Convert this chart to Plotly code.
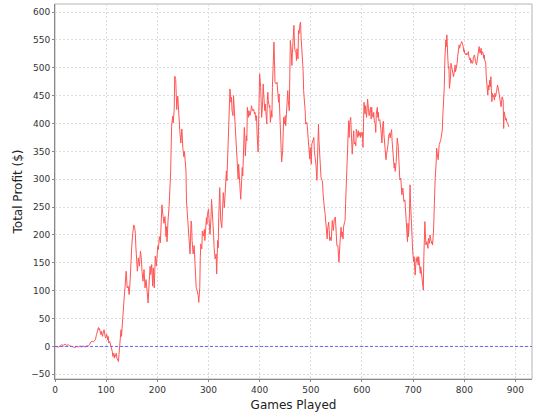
import plotly.graph_objects as go

# ---- data (games played, cumulative profit in $) ----
games_a = [0, 3, 7, 10, 13, 16, 20, 23, 26, 29, 33, 36, 39, 42, 46, 49, 52, 55, 59, 62,
           65, 68, 70, 73, 75, 77, 79, 81, 83, 85, 86, 87, 89, 90, 91, 93, 94, 96, 98, 99,
           101, 103, 104, 105, 107, 109, 111, 112, 113, 115, 116, 117, 118, 120, 121, 122,
           124, 125, 126]
profit_a = [0, 0, -1, 1, 3, 2, 4, 2, 3, 1, -1, -1, -2, 0, -1, 1, -1, 1, -1, 1,
            1, 4, 8, 9, 8, 11, 12, 21, 27, 34, 30, 32, 24, 21, 27, 18, 24, 30, 18, 15,
            22, 12, 18, 6, 9, 3, -3, -9, -18, -12, -21, -15, -18, -12, -21, -24,
            -27, -15, 0]

games_b = [129, 130, 132, 133, 135, 137, 139, 140, 141, 143, 145, 147, 148, 150, 152, 154,
           156, 157, 158, 160, 161, 163, 165, 167, 169, 170, 172, 174, 176, 178, 180, 182,
           184, 186, 187, 189, 191, 192, 194, 196, 198, 199, 201, 202, 204, 206, 207, 209,
           211, 213, 215, 217, 218, 219, 221, 223]
profit_b = [30, 18, 54, 48, 84, 108, 135, 123, 105, 108, 93, 120, 147, 180, 203, 218,
            212, 203, 180, 153, 135, 159, 144, 171, 156, 135, 117, 138, 105, 120, 99, 78,
            114, 144, 129, 147, 108, 141, 105, 162, 144, 165, 180, 174, 197, 186, 215, 254,
            236, 221, 233, 197, 215, 188, 227, 251]

games_c = [226, 228, 230, 231, 233, 234, 236, 238, 240, 242, 244, 246, 248, 250, 252, 253]
profit_c = [311, 395, 413, 401, 425, 485, 479, 425, 449, 407, 386, 365, 390, 355, 340, 350]

games_d = [254, 256, 257, 259, 260, 262, 264, 266, 267, 268, 270, 272, 274, 276, 278, 280,
           281, 283, 284, 285, 287, 288, 290, 292, 293, 294, 296, 297, 298, 300, 301, 302,
           303, 305, 306, 307, 309, 310, 311, 313, 315, 316, 318, 319, 320, 322, 323, 324,
           326, 328, 329, 331, 333, 335, 336, 337, 339, 340, 341, 342, 344, 345, 346, 348,
           349, 350, 352, 353, 355, 357, 358, 359, 361, 362, 363, 365, 366, 367, 369, 370,
           371, 372, 374, 375, 376, 378, 379]
profit_d = [330, 315, 261, 234, 240, 210, 166, 225, 219, 190, 166, 181, 130, 106, 100, 91,
            79, 106, 160, 184, 175, 207, 198, 210, 190, 216, 231, 219, 237, 246, 225, 213,
            201, 231, 264, 249, 225, 201, 177, 157, 166, 130, 190, 177, 231, 285, 255, 225,
            213, 261, 276, 249, 279, 315, 297, 327, 366, 411, 453, 462, 438, 447, 423, 414,
            450, 432, 411, 381, 351, 327, 300, 327, 303, 279, 264, 300, 321, 306, 351, 393,
            375, 342, 378, 369, 429, 411, 423]

games_e = [381, 383, 384, 386, 388, 390, 391, 393, 394, 395, 397, 398, 400, 402, 403, 404,
           406, 407, 408, 410, 411, 412, 414, 415, 416, 417, 419, 420, 421, 423, 424, 425,
           427, 428, 429, 430, 432, 434, 436, 437, 438, 440, 441, 442, 443, 445, 446, 447,
           449, 450, 451, 453, 454, 455, 456, 458, 459, 460, 462, 463, 464, 466, 467, 468,
           469, 471, 472, 473, 475, 476, 477, 479, 480, 481, 482, 484, 485, 486, 488, 489,
           490, 492, 493, 494, 496, 497, 498, 499, 501, 502, 503, 505, 506, 507, 509, 510]
profit_e = [414, 423, 432, 423, 426, 417, 420, 405, 414, 381, 349, 399, 489, 465, 423, 411,
            441, 471, 453, 423, 435, 426, 399, 441, 456, 441, 429, 432, 402, 423, 411, 465,
            525, 546, 513, 474, 471, 474, 450, 438, 453, 405, 393, 363, 331, 351, 387, 411,
            399, 414, 396, 423, 429, 459, 441, 423, 489, 549, 528, 504, 525, 573, 576, 546,
            531, 528, 513, 534, 516, 567, 561, 579, 582, 555, 540, 525, 495, 459, 441, 423,
            399, 402, 396, 381, 366, 351, 336, 357, 327, 363, 366, 369, 375, 351, 339, 327]

games_f = [512, 514, 515, 516, 518, 519, 520, 522, 523, 524, 525, 527, 528, 529, 531, 532,
           533, 535, 536, 537, 538, 540, 541, 542, 544, 545, 546, 548, 549, 550, 551, 553,
           554, 555, 557, 558, 559, 561, 562, 563, 564, 566, 567, 568, 570, 571, 572, 574,
           575, 576, 578, 579, 580, 581, 583, 584, 585, 587, 588, 589, 591, 592, 593, 594,
           596, 597, 598, 600, 601, 602, 604, 605, 606, 607, 609, 610, 611, 613, 614, 615,
           617, 618, 619, 620, 622, 623, 624, 626, 627, 628, 630, 631, 632, 633]
profit_f = [298, 351, 399, 369, 339, 327, 303, 298, 295, 274, 256, 244, 238, 226, 208, 193,
            211, 223, 208, 190, 196, 190, 214, 226, 208, 220, 229, 232, 208, 196, 181, 181,
            166, 151, 184, 205, 214, 196, 205, 193, 214, 223, 226, 256, 303, 339, 381, 405,
            375, 399, 411, 390, 363, 345, 375, 387, 363, 366, 360, 390, 381, 375, 387, 378,
            384, 375, 384, 378, 384, 357, 438, 423, 417, 432, 411, 426, 444, 423, 414, 420,
            429, 408, 429, 417, 411, 420, 405, 399, 384, 417, 429, 411, 420, 405]

games_g = [635, 637, 638, 639, 641, 642, 643, 645, 646, 647, 648, 650, 651, 652, 654, 655,
           656, 658, 659, 660, 661, 663, 664, 665, 667, 668, 669, 671, 672, 673, 674, 676,
           677, 678, 680, 681, 682, 684, 685, 686, 687, 689, 690, 691, 693, 694, 695, 697,
           698, 699, 701, 702, 703, 704, 706, 707, 708, 710, 711, 712, 714, 715, 716, 717,
           719, 720, 721, 723, 724, 725, 727, 728, 729, 730, 732, 733, 734, 736, 737, 738,
           740, 741, 742, 743, 745, 746, 747, 749, 750, 751]
profit_g = [407, 389, 371, 365, 401, 404, 380, 359, 350, 335, 344, 353, 362, 377, 383, 374,
            383, 389, 368, 350, 332, 320, 329, 314, 332, 362, 374, 359, 338, 317, 299, 302,
            287, 272, 284, 269, 260, 263, 245, 227, 209, 188, 221, 197, 239, 290, 257, 227,
            197, 173, 152, 161, 143, 128, 158, 152, 161, 146, 161, 143, 131, 143, 134, 131,
            119, 101, 161, 224, 203, 182, 188, 179, 176, 194, 185, 200, 191, 185, 188, 182,
            209, 260, 263, 299, 329, 356, 347, 335, 350, 362]

games_h = [754, 755, 757, 758, 759, 760, 761, 762, 764, 765, 766, 768, 769, 770, 771, 773,
           774, 775, 777, 778, 779, 781, 782, 783, 785, 786, 787, 788, 790, 791, 792, 794,
           795, 796, 798, 799, 800, 801, 803, 804, 805, 807, 808, 809, 811, 812, 813, 814,
           816, 817, 818, 820, 821, 822, 824, 825, 826, 827, 829, 830, 831, 833, 834, 835,
           837, 838, 839, 840, 842, 843, 844, 846, 847, 848, 850, 851, 852, 854, 855, 856,
           857, 859, 860, 861, 863, 864, 865, 867, 868, 869, 870, 872, 873, 874, 876, 877,
           878, 880, 881, 882, 883, 885, 886, 887]
profit_h = [370, 379, 388, 412, 430, 427, 466, 514, 550, 538, 559, 514, 499, 502, 463, 481,
            508, 502, 493, 487, 484, 496, 505, 493, 502, 508, 520, 532, 541, 535, 541, 544,
            547, 544, 538, 529, 532, 526, 523, 526, 523, 526, 529, 520, 514, 517, 508, 514,
            508, 511, 520, 523, 514, 511, 505, 514, 523, 532, 538, 529, 526, 535, 523, 529,
            526, 517, 523, 514, 508, 484, 466, 451, 469, 460, 478, 466, 484, 439, 454, 448,
            451, 442, 454, 448, 457, 466, 469, 460, 451, 448, 442, 430, 445, 448, 442, 391,
            421, 412, 406, 409, 403, 400, 397, 394]

x_ticks = [0, 100, 200, 300, 400, 500, 600, 700, 800, 900]
y_ticks = [-50, 0, 50, 100, 150, 200, 250, 300, 350, 400, 450, 500, 550, 600]

games = games_a + games_b + games_c + games_d + games_e + games_f + games_g + games_h
profit = profit_a + profit_b + profit_c + profit_d + profit_e + profit_f + profit_g + profit_h

FONT = "DejaVu Sans"

fig = go.Figure()
fig.add_trace(go.Scatter(
    x=games, y=profit, mode="lines",
    line=dict(color="#FF5555", width=1),
    hoverinfo="skip", showlegend=False,
))

# plot outline (light grey)
fig.add_shape(type="rect", xref="paper", yref="paper", x0=0, x1=1, y0=0, y1=1,
              line=dict(color="#b4b4b4", width=1), layer="below")
# zero marker (blue dashed)
fig.add_shape(type="line", xref="paper", yref="y", x0=0, x1=1, y0=0, y1=0,
              line=dict(color="#6464ff", width=1, dash="3px,2px"), layer="above")

axis_common = dict(
    showgrid=True, gridcolor="#dcdcdc", griddash="2px,2px", gridwidth=1,
    showline=True, linecolor="#888888", linewidth=1,
    ticks="outside", ticklen=2, tickcolor="#888888", tickwidth=1,
    tickfont=dict(family=FONT, size=9, color="#333333"),
    zeroline=False, automargin=False,
)

fig.update_layout(
    width=540, height=420,
    margin=dict(l=55, r=8, t=4, b=41),
    paper_bgcolor="white", plot_bgcolor="white",
    font=dict(family=FONT, color="#222222"),
    showlegend=False,
    xaxis=dict(range=[0, 932.4], tickvals=x_ticks,
               title=dict(text="Games Played", font=dict(family=FONT, size=12, color="#222222"), standoff=6),
               **axis_common),
    yaxis=dict(range=[-58.4, 614.4], tickvals=y_ticks,
               title=dict(text="Total Profit ($)", font=dict(family=FONT, size=12, color="#222222"), standoff=6),
               **axis_common),
)

fig.write_html("out.html", config={"displayModeBar": False},
               post_script="document.body.style.margin='0';document.body.style.overflow='hidden';")
